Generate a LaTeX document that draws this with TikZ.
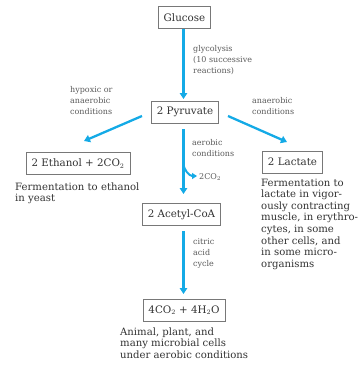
\documentclass[tikz,border=0pt]{standalone}
\usepackage{fontspec}
\setmainfont{DejaVu Serif}
\usetikzlibrary{arrows.meta}
\definecolor{arrowblue}{RGB}{20,170,230}
\definecolor{boxgray}{RGB}{120,120,120}
\definecolor{txt}{RGB}{50,50,50}
\definecolor{lbl}{RGB}{90,90,90}
\tikzset{
  box/.style={draw=boxgray, line width=0.8pt, inner xsep=5.5pt, minimum height=22pt, text=txt, font=\fontsize{10.3}{11}\selectfont},
  flow/.style={draw=arrowblue, line width=2.3pt, -{Triangle[width=7.5pt,length=6pt]}},
  lab/.style={text=lbl, font=\fontsize{8}{11}\selectfont, align=left, anchor=north west, inner sep=0pt},
  desc/.style={text=txt, font=\fontsize{10.1}{11.6}\selectfont, align=left, anchor=north west, inner sep=0pt},
}
\begin{document}
\begin{tikzpicture}[x=1pt,y=-1pt]
\useasboundingbox (0,0) rectangle (364,370);
\node[box] (glu) at (184.5,17.5) {Glucose};
\node[box] (pyr) at (185,112) {2 Pyruvate};
\node[box] (eth) at (78,163.5) {2 Ethanol + 2CO$_2$};
\node[box] (lac) at (292.5,162) {2 Lactate};
\node[box] (ace) at (181.5,214.5) {2 Acetyl-CoA};
\node[box] (fin) at (184,310) {4CO$_2$ + 4H$_2$O};

\coordinate (g1) at (183.5,29);
\coordinate (p1) at (183.5,99);
\draw[flow] (g1) -- (p1);
\coordinate (pl) at (142,116);
\coordinate (el) at (84,141);
\draw[flow] (pl) -- (el);
\coordinate (pr) at (228,116);
\coordinate (lr) at (287,142);
\draw[flow] (pr) -- (lr);
\coordinate (pc) at (183.5,129);
\coordinate (ac) at (183.5,194);
\draw[flow] (pc) -- (ac);
\coordinate (br) at (183.5,163);
\coordinate (co) at (197,176);
\draw[draw=arrowblue, line width=2pt, -{Triangle[width=6pt,length=5pt]}] (br) to[out=-90,in=180] (co);
\coordinate (a1) at (183.5,231);
\coordinate (f1) at (183.5,294);
\draw[flow] (a1) -- (f1);

\node[lab] (gly) at (193,45) {glycolysis\\(10 successive\\reactions)};
\node[lab] (hyp) at (70,86) {hypoxic or\\anaerobic\\conditions};
\node[lab] (ana) at (252,97) {anaerobic\\conditions};
\node[lab] (aer) at (192,139) {aerobic\\conditions};
\node[lab, anchor=west] (co2) at (199,177) {2CO$_2$};
\node[lab] (cit) at (193,238) {citric\\acid\\cycle};

\node[desc] (fe) at (15,182.5) {Fermentation to ethanol\\in yeast};
\node[desc] (fl) at (261,178.5) {Fermentation to\\lactate in vigor-\\ously contracting\\muscle, in erythro-\\cytes, in some\\other cells, and\\in some micro-\\organisms};
\node[desc] (fa) at (120,327.5) {Animal, plant, and\\many microbial cells\\under aerobic conditions};
\end{tikzpicture}
\end{document}
